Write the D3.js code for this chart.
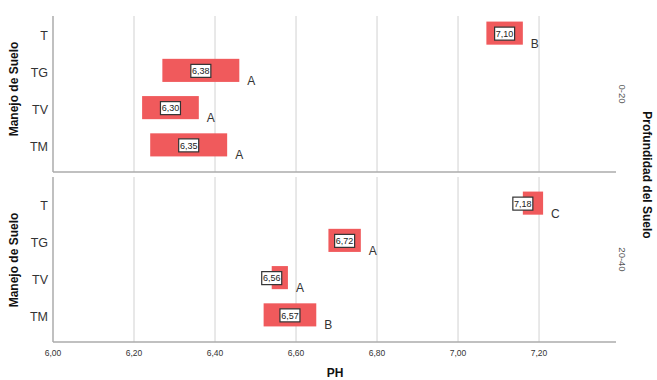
<!DOCTYPE html>
<html><head><meta charset="utf-8">
<script src="https://cdn.jsdelivr.net/npm/d3@7"></script>
<style>body{margin:0;background:#fff}svg{font-family:"Liberation Sans",Arial,sans-serif}</style>
</head><body><svg id="c" width="657" height="380"></svg>
<script>
const categories = ["T","TG","TV","TM"];
const depths = ["0-20","20-40"];
const low020 = [7.07, 6.27, 6.22, 6.24];
const high020 = [7.16, 6.46, 6.36, 6.43];
const mean020 = [7.10, 6.38, 6.30, 6.35];
const letters020 = ["B","A","A","A"];
const low2040 = [7.16, 6.68, 6.54, 6.52];
const high2040 = [7.21, 6.76, 6.58, 6.65];
const mean2040 = [7.18, 6.72, 6.56, 6.57];
const letters2040 = ["C","A","A","B"];
const xTicks = [6.0, 6.2, 6.4, 6.6, 6.8, 7.0, 7.2];

const panels = [
  {depth: depths[0], low: low020, high: high020, mean: mean020, letters: letters020, y0: 16, y1: 172, b0: 14.5, b1: 163.5, tc: 89},
  {depth: depths[1], low: low2040, high: high2040, mean: mean2040, letters: letters2040, y0: 177, y1: 342, b0: 184.5, b1: 333.5, tc: 260}
];
const svg = d3.select("#c");
const x = d3.scaleLinear().domain([6.0, 7.39]).range([53, 616]);
const fmt = v => d3.format(".2f")(v).replace(".", ",");
const barColor = "#f05a5c";

panels.forEach(p => {
  const y = d3.scaleBand().domain(categories).range([p.b0, p.b1]).paddingInner(0.38).paddingOuter(0.19);
  const g = svg.append("g");
  g.selectAll("line.grid").data(xTicks.slice(1)).join("line")
    .attr("x1", d => x(d)).attr("x2", d => x(d)).attr("y1", p.y0).attr("y2", p.y1)
    .attr("stroke", "#d9d9d9").attr("stroke-width", 1.2);
  g.append("line").attr("x1", x(6.0)).attr("x2", x(6.0)).attr("y1", p.y0).attr("y2", p.y1)
    .attr("stroke", "#ababab").attr("stroke-width", 1.5);
  g.append("line").attr("x1", x(6.0)).attr("x2", x.range()[1]).attr("y1", p.y1).attr("y2", p.y1)
    .attr("stroke", "#ababab").attr("stroke-width", 1.5);
  g.selectAll("text.cat").data(categories).join("text")
    .attr("x", 48).attr("y", d => y(d) + y.bandwidth() / 2 + 2).attr("dy", "0.35em")
    .attr("text-anchor", "end").attr("font-size", 12.5).attr("fill", "#333").text(d => d);
  const rows = categories.map((c, i) => ({c, lo: p.low[i], hi: p.high[i], m: p.mean[i], l: p.letters[i]}));
  g.selectAll("rect.bar").data(rows).join("rect")
    .attr("x", d => x(d.lo)).attr("width", d => x(d.hi) - x(d.lo))
    .attr("y", d => y(d.c)).attr("height", y.bandwidth()).attr("fill", barColor);
  const lab = g.selectAll("g.lab").data(rows).join("g")
    .attr("transform", d => {
      const w = x(d.hi) - x(d.lo);
      const cx = w < 22 ? x(d.lo) : (x(d.lo) + x(d.hi)) / 2;
      return `translate(${cx},${y(d.c) + y.bandwidth() / 2 + 0.5})`;
    });
  lab.append("rect").attr("x", -10).attr("y", -6.5).attr("width", 20).attr("height", 13)
    .attr("fill", "#fff").attr("stroke", "#333").attr("stroke-width", 1.2);
  lab.append("text").attr("text-anchor", "middle").attr("dy", "0.35em").attr("font-size", 9)
    .attr("fill", "#222").text(d => fmt(d.m));
  g.selectAll("text.let").data(rows).join("text")
    .attr("x", d => x(d.hi) + 8).attr("y", d => y(d.c) + y.bandwidth() + 3)
    .attr("font-size", 12).attr("fill", "#333").text(d => d.l);
  g.append("text").attr("transform", `translate(18,${p.tc}) rotate(-90)`).attr("text-anchor", "middle")
    .attr("font-size", 12).attr("font-weight", "bold").attr("fill", "#111").text("Manejo de Suelo");
  g.append("text").attr("transform", `translate(619,${(p.y0 + p.y1) / 2}) rotate(90)`).attr("text-anchor", "middle")
    .attr("font-size", 9.5).attr("fill", "#555").text(p.depth);
});

svg.selectAll("text.tick").data(xTicks).join("text")
  .attr("x", d => x(d)).attr("y", 356).attr("text-anchor", "middle")
  .attr("font-size", 8.5).attr("fill", "#333").text(fmt);
svg.append("text").attr("x", 335).attr("y", 377).attr("text-anchor", "middle")
  .attr("font-size", 12).attr("font-weight", "bold").attr("fill", "#111").text("PH");
svg.append("text").attr("transform", "translate(643,175) rotate(90)").attr("text-anchor", "middle")
  .attr("font-size", 12).attr("font-weight", "bold").attr("fill", "#111").text("Profundidad del Suelo");
</script></body></html>
